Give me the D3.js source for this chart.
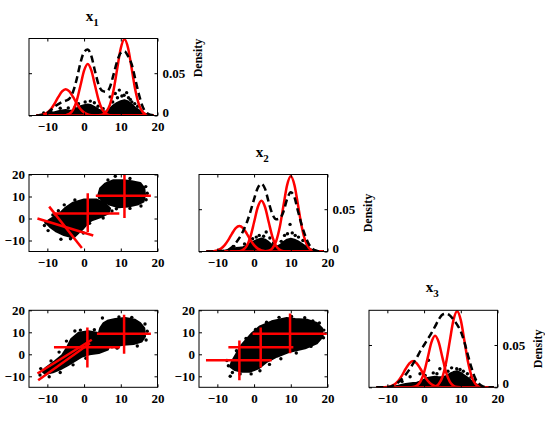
<!DOCTYPE html>
<html><head><meta charset="utf-8">
<script src="https://cdn.jsdelivr.net/npm/d3@7"></script>
<style>
body{margin:0;background:#fff}
svg{display:block}
</style>
</head><body>
<svg id="chart" width="545" height="423"></svg>
<script>
// ---------------- DATA ----------------
const variableNames = ["1", "2", "3"];
const xTickValues = [-10, 0, 10, 20];
const scatterYTickValues = [-10, 0, 10, 20];
const densityTickValues = [0, 0.05];
const densityTickLabels = ["0", "0.05"];

// x grid of density curves
const densityX = [-13,-12,-11,-10,-9,-8,-7,-6,-5,-4,-3,-2,-1,0,1,2,3,4,5,6,7,8,9,10,11,12,13,14,15,16,17,18,19];

// x1 density panel
const redX1A = [0.0001,0.0004,0.0014,0.0035,0.0077,0.0142,0.0219,0.0284,0.031,0.0284,0.0219,0.0142,0.0077,0.0035,0.0014,0.0004,0.0001,0,0,0,0,0,0,0,0,0,0,0,0,0,0,0,0];
const redX1B = [0,0,0,0,0,0,0,0,0.0004,0.0019,0.0066,0.0176,0.0351,0.0531,0.061,0.0531,0.0351,0.0176,0.0066,0.0019,0.0004,0.0001,0,0,0,0,0,0,0,0,0,0,0];
const redX1C = [0,0,0,0,0,0,0,0,0,0,0,0,0,0,0,0,0,0.0002,0.001,0.004,0.0122,0.0292,0.0546,0.0794,0.09,0.0794,0.0546,0.0292,0.0122,0.004,0.001,0.0002,0];
const dashX1 = [0,0.0003,0.001,0.003,0.0065,0.0105,0.0135,0.016,0.0175,0.02,0.028,0.043,0.062,0.075,0.078,0.07,0.052,0.036,0.029,0.028,0.033,0.048,0.064,0.074,0.076,0.07,0.06,0.042,0.024,0.01,0.0035,0.001,0.0002];
const massX1 = [[-12.5,0],[-12,0.001],[-11,0.0015],[-10,0.002],[-9,0.003],[-8,0.004],[-7,0.005],[-6,0.006],[-5,0.0065],[-4,0.0055],[-3,0.006],[-2,0.008],[-1,0.011],[0,0.012],[1,0.013],[2,0.012],[3,0.0095],[4,0.007],[5,0.005],[6,0.0045],[7,0.008],[8,0.012],[9,0.015],[10,0.017],[11,0.018],[12,0.0165],[13,0.013],[14,0.009],[15,0.006],[16,0.003],[17,0.0012],[18,0]];
const dotsX1 = [[-11,0.003],[-9,0.004],[-6.5,0.0085],[-4.3,0.009],[-2.5,0.0095],[-1.5,0.014],[0.3,0.016],[1.7,0.017],[2.8,0.015],[3.8,0.011],[5.2,0.008],[7.1,0.022],[7.8,0.016],[8.5,0.026],[9.1,0.021],[9.6,0.03],[10.3,0.023],[10.9,0.024],[11.6,0.027],[12.1,0.021],[12.6,0.019],[13,0.016],[13.8,0.014],[14.6,0.011]];

// x2 density panel
const redX2A = [0,0.0001,0.0004,0.0013,0.0034,0.0075,0.0137,0.0212,0.0275,0.03,0.0275,0.0212,0.0137,0.0075,0.0034,0.0013,0.0004,0.0001,0,0,0,0,0,0,0,0,0,0,0,0,0,0,0];
const redX2B = [0,0,0,0,0,0,0,0,0.0001,0.0004,0.0019,0.0065,0.0173,0.0345,0.0523,0.06,0.0523,0.0345,0.0173,0.0065,0.0019,0.0004,0.0001,0,0,0,0,0,0,0,0,0,0];
const redX2C = [0,0,0,0,0,0,0,0,0,0,0,0,0,0,0,0,0.0002,0.001,0.0039,0.012,0.0289,0.054,0.0785,0.089,0.0785,0.054,0.0289,0.012,0.0039,0.001,0.0002,0,0];
const dashX2 = [0,0,0,0.0002,0.0005,0.001,0.002,0.005,0.01,0.016,0.024,0.034,0.047,0.062,0.075,0.08,0.074,0.058,0.044,0.038,0.039,0.047,0.062,0.07,0.064,0.047,0.031,0.018,0.008,0.003,0.001,0,0];
const massX2 = [[-9,0],[-8,0.001],[-7,0.002],[-6,0.003],[-5,0.004],[-4,0.0045],[-3,0.005],[-2,0.007],[-1,0.01],[0,0.012],[1,0.014],[2,0.0155],[3,0.014],[4,0.011],[5,0.0075],[6,0.0055],[7,0.0075],[8,0.011],[9,0.014],[10,0.015],[11,0.014],[12,0.012],[13,0.009],[14,0.006],[15,0.0035],[16,0.0015],[17,0.0005],[17.5,0]];
const dotsX2 = [[-5.5,0.006],[-2.6,0.009],[-0.4,0.015],[0.6,0.017],[1.4,0.019],[2.6,0.018],[3.3,0.023],[4.3,0.016],[5.3,0.01],[7.4,0.012],[8.3,0.019],[9.1,0.021],[9.8,0.032],[10.4,0.022],[11.2,0.019],[12.1,0.017],[13.3,0.013],[14.5,0.009]];

// x3 density panel
const redX3A = [0,0,0.0001,0.0004,0.0014,0.0035,0.0077,0.0142,0.0219,0.0284,0.031,0.0284,0.0219,0.0142,0.0077,0.0035,0.0014,0.0004,0.0001,0,0,0,0,0,0,0,0,0,0,0,0,0,0];
const redX3B = [0,0,0,0,0,0,0,0,0,0,0.0004,0.0019,0.0066,0.0176,0.0351,0.0531,0.061,0.0531,0.0351,0.0176,0.0066,0.0019,0.0004,0.0001,0,0,0,0,0,0,0,0,0];
const redX3C = [0,0,0,0,0,0,0,0,0,0,0,0,0,0,0,0.0002,0.001,0.004,0.0122,0.0292,0.0546,0.0794,0.09,0.0794,0.0546,0.0292,0.0122,0.004,0.001,0.0002,0,0,0];
const dashX3 = [0,0,0,0.0003,0.001,0.003,0.006,0.01,0.015,0.021,0.028,0.035,0.043,0.05,0.057,0.064,0.072,0.08,0.086,0.087,0.085,0.08,0.074,0.066,0.053,0.037,0.022,0.01,0.004,0.001,0,0,0];
const massX3 = [[-9,0],[-8,0.001],[-7,0.002],[-6,0.003],[-5,0.004],[-4,0.0045],[-3,0.005],[-2,0.0055],[-1,0.007],[0,0.009],[1,0.011],[2,0.012],[3,0.0125],[4,0.012],[5,0.012],[6,0.013],[7,0.016],[8,0.018],[9,0.019],[10,0.017],[11,0.014],[12,0.011],[13,0.007],[14,0.004],[15,0.002],[16,0.0008],[16.8,0]];
const dotsX3 = [[-6,0.007],[-3.8,0.0125],[-1.1,0.016],[0.3,0.014],[1.2,0.032],[2.5,0.017],[3.5,0.016],[4.3,0.022],[5.7,0.026],[6.5,0.019],[7.5,0.023],[8.9,0.022],[9.8,0.021],[10.7,0.019],[11.8,0.016],[12.8,0.012],[13.8,0.008]];

// scatter x1 (horizontal) vs x2 (vertical)
const blobR2C1Upper = [[3.9,10.8],[4.4,13.8],[5.7,15.8],[8,17.4],[10.7,17.4],[13,16.9],[15.3,16.2],[16.4,13.8],[16.6,10.8],[16.2,7.7],[14.8,6.5],[12.1,5.4],[9.4,5.1],[7.1,6.2],[4.8,8.2]];
const blobR2C1Lower = [[-9.7,-0.8],[-8.2,0.8],[-6.5,2.5],[-5,5],[-3,7.2],[0,8.6],[3.5,8.6],[5.7,7],[7.1,4.6],[6.6,2.3],[4.4,0.5],[2.1,-0.8],[0.8,-2.5],[-0.5,-5],[-1.5,-6.5],[-2.9,-8.8],[-4,-8.2],[-5.5,-7.5],[-7.5,-6],[-9.3,-3.8],[-10.2,-2.3]];
const dotsR2C1 = [[8.5,19.2],[6.5,17.5],[12.5,18.2],[16.8,14.5],[17.2,11.5],[16.9,8.5],[15.5,5.7],[12.5,4.6],[8.8,4.4],[4.2,9.5],[3.2,7.2],[-2.5,8.4],[-5.4,6.2],[-7,3.5],[-10.4,-1.8],[-10.8,-3.2],[-9.8,-5.5],[-6.3,-9.4],[-3.7,-9.2],[-0.2,-6.6],[1.5,-2.2],[5.2,0.2],[7.6,3.4],[-8.5,1.6]];
const crossR2C1 = [[3.2,10.3,18.2,10.3],[11,20,11,0.2],[-8.4,2.3,9.6,2.3],[1,11.5,1,-6.1],[-12.7,0,2.5,-7.7],[-9.5,5.4,-0.6,-13.4]];

// scatter x1 (horizontal) vs x3 (vertical)
const blobR3C1Upper = [[4.4,11.9],[5.3,14.2],[6.6,15.4],[8.5,16],[11.2,16.5],[13.9,15.7],[15.3,14.2],[16.4,11.9],[16.6,8.1],[15.7,5.8],[13.5,4.7],[10.7,4.3],[8,3.5],[6.2,4.3],[4.8,6.6],[3.9,8.9]];
const blobR3C1Lower = [[-10.5,-6.2],[-8,-3.2],[-6,-0.5],[-4.7,3],[-3.5,7],[-1.5,9.8],[1.2,10.5],[3.5,9.8],[5.7,8.3],[7.1,5.2],[6.5,2.2],[4,0.6],[1.5,0],[-0.5,-1],[-2.5,-3],[-4.5,-5],[-6.5,-6.8],[-8.5,-8.2],[-10.5,-9],[-11.2,-8]];
const dotsR3C1 = [[5,16.5],[9.5,17],[13,16.8],[16.6,13.8],[17.2,10.5],[16.9,6.5],[14.5,3.8],[9,2.8],[4.2,5.6],[2.8,11.2],[-1,11],[-2.5,10.6],[-4.8,6],[-6.8,1],[-9,-3],[-11.8,-6.5],[-12,-9.4],[-9.5,-10.2],[-6.5,-8.3],[-3,-4.8],[0.5,-1.8],[7.6,3.4]];
const crossR3C1 = [[3.5,9.3,18.2,9.3],[10.9,18,10.9,0.2],[-8.2,3.2,9.8,3.2],[0.9,12.2,0.9,-6],[-12.7,-8.7,2.1,6.6],[-12.5,-11.8,1.6,5]];

// scatter x2 (horizontal) vs x3 (vertical)
const blobR3C2 = [[-6.1,-3.4],[-3.4,4.3],[-0.6,9.6],[1.6,12.7],[4.8,15],[8.9,16.5],[11.2,16],[14.4,15.7],[17.1,14.2],[18.5,11.9],[18.7,8.1],[17.1,5],[13.9,2.7],[9.8,1.2],[6.2,-1.1],[3.5,-3.4],[1.2,-6.4],[-1.1,-7.9],[-3.4,-7.9],[-5.2,-7.2],[-6.5,-5.6]];
const dotsR3C2 = [[17.8,14.2],[19,11],[18.9,7.5],[15.5,3.6],[11.5,0.6],[7.3,-2],[4.2,-4.6],[1.6,-7.5],[-0.8,-8.9],[-3.8,-8.9],[-5.9,-8.3],[-7,-5.2],[-7.4,-2.8],[-4.8,1.6],[-2.2,7.2],[0.4,11.3],[3.4,14.6],[6.8,16.8],[10.2,17.2],[13.8,16.6],[16,15.2],[-6.5,-10]];
const crossR3C2 = [[-0.4,9.3,19.8,9.3],[9.8,18.5,9.8,0.5],[-7,3.2,10.7,3.2],[1.8,12.2,1.8,-6],[-13.1,-2.7,4.8,-2.7],[-4,6.3,-4,-11.8]];

// ---------------- LAYOUT ----------------
const colLeft = [29, 199, 369];
const rowTop = [38.5, 174.5, 310.3];
const PW = 128.5, PH = 77;
const densityMax = 0.091;
const FONT = '"Liberation Serif","Times New Roman",serif';
const TICK_FONT = 13;
const RED = "#ff0000";

const svg = d3.select("#chart");

function numFmt(d){ return d < 0 ? "\u2212" + Math.abs(d) : String(d); }

function styleAxis(g){
  g.select(".domain").remove();
  g.attr("font-family", FONT).attr("font-size", TICK_FONT).attr("font-weight", "bold");
  g.selectAll("line").attr("stroke", "#000");
  g.selectAll("text").attr("fill", "#000");
}

function makePanel(r, c, yDomain){
  const left = colLeft[c], top = rowTop[r];
  const x = d3.scaleLinear().domain([-15, 20]).range([left, left + PW]);
  const y = d3.scaleLinear().domain(yDomain).range([top + PH, top]);
  const id = "clip" + r + c;
  svg.append("clipPath").attr("id", id).append("rect")
    .attr("x", left).attr("y", top).attr("width", PW).attr("height", PH);
  const g = svg.append("g");
  const plot = g.append("g").attr("clip-path", `url(#${id})`);
  return {x, y, g, plot, left, top};
}

function drawXAxes(p){
  p.g.append("g").attr("transform", `translate(0,${p.top + PH})`)
    .call(d3.axisBottom(p.x).tickValues(xTickValues).tickSize(-3).tickPadding(6).tickFormat(numFmt))
    .call(styleAxis);
  p.g.append("g").attr("transform", `translate(0,${p.top})`)
    .call(d3.axisTop(p.x).tickValues(xTickValues).tickSize(-3).tickFormat(""))
    .call(styleAxis);
}

function drawBox(p){
  p.g.append("rect").attr("x", p.left).attr("y", p.top).attr("width", PW).attr("height", PH)
    .attr("fill", "none").attr("stroke", "#000").attr("stroke-width", 1);
}

// ---------------- DIAGONAL (density) PANELS ----------------
const diagRed = [[redX1A, redX1B, redX1C], [redX2A, redX2B, redX2C], [redX3A, redX3B, redX3C]];
const diagDash = [dashX1, dashX2, dashX3];
const diagMass = [massX1, massX2, massX3];
const diagDots = [dotsX1, dotsX2, dotsX3];
const densityLabelY = [58, null, null];

for (let i = 0; i < 3; i++) {
  const p = makePanel(i, i, [0, densityMax]);
  const area = d3.area().x(d => p.x(d[0])).y0(p.y(0)).y1(d => p.y(d[1])).curve(d3.curveLinear);
  p.plot.append("path").datum(diagMass[i]).attr("d", area).attr("fill", "#000")
    .attr("stroke", "#000").attr("stroke-width", 2).attr("stroke-linejoin", "round");
  p.plot.selectAll("circle.dot").data(diagDots[i]).join("circle").attr("class", "dot")
    .attr("cx", d => p.x(d[0])).attr("cy", d => p.y(d[1])).attr("r", 1.7).attr("fill", "#000");
  const line = d3.line().x((d, k) => p.x(densityX[k])).y(d => p.y(d)).curve(d3.curveMonotoneX);
  diagRed[i].forEach(arr => {
    p.plot.append("path").datum(arr).attr("d", line).attr("fill", "none")
      .attr("stroke", RED).attr("stroke-width", 2.5);
  });
  p.plot.append("path").datum(diagDash[i]).attr("d", line).attr("fill", "none")
    .attr("stroke", "#000").attr("stroke-width", 2.5).attr("stroke-dasharray", "7,4");
  drawBox(p);
  drawXAxes(p);
  p.g.append("g").attr("transform", `translate(${p.left + PW},0)`)
    .call(d3.axisRight(p.y).tickValues(densityTickValues).tickSize(-3).tickPadding(5)
      .tickFormat((d, k) => densityTickLabels[k]))
    .call(styleAxis)
    .call(g => g.selectAll("text").filter(d => d === 0).attr("dy", "0.05em"));
  p.g.append("g").attr("transform", `translate(${p.left},0)`)
    .call(d3.axisLeft(p.y).tickValues(densityTickValues).tickSize(-3).tickFormat(""))
    .call(styleAxis);
  const t = p.g.append("text").attr("x", p.left + PW / 2 - 1).attr("y", p.top - 18)
    .attr("text-anchor", "middle").attr("font-family", FONT).attr("font-weight", "bold").attr("font-size", 15);
  t.append("tspan").text("x");
  t.append("tspan").attr("font-size", 11).attr("dy", 5).text(variableNames[i]);
  const ly = densityLabelY[i] != null ? densityLabelY[i] : p.top + PH / 2;
  p.g.append("text").attr("transform", `translate(${p.left + PW + 44},${ly}) rotate(-90)`)
    .attr("text-anchor", "middle").attr("font-family", FONT).attr("font-weight", "bold")
    .attr("font-size", 12).text("Density");
}

// ---------------- SCATTER PANELS ----------------
const scatterPanels = [
  {r: 1, c: 0, blobs: [blobR2C1Upper, blobR2C1Lower], dots: dotsR2C1, cross: crossR2C1},
  {r: 2, c: 0, blobs: [blobR3C1Upper, blobR3C1Lower], dots: dotsR3C1, cross: crossR3C1},
  {r: 2, c: 1, blobs: [blobR3C2], dots: dotsR3C2, cross: crossR3C2}
];

scatterPanels.forEach(sp => {
  const p = makePanel(sp.r, sp.c, [-15, 20]);
  const poly = d3.line().x(d => p.x(d[0])).y(d => p.y(d[1])).curve(d3.curveLinearClosed);
  sp.blobs.forEach(b => {
    p.plot.append("path").datum(b).attr("d", poly).attr("fill", "#000")
      .attr("stroke", "#000").attr("stroke-width", 2).attr("stroke-linejoin", "round");
  });
  p.plot.selectAll("circle.dot").data(sp.dots).join("circle").attr("class", "dot")
    .attr("cx", d => p.x(d[0])).attr("cy", d => p.y(d[1])).attr("r", 1.7).attr("fill", "#000");
  p.plot.selectAll("line.cross").data(sp.cross).join("line").attr("class", "cross")
    .attr("x1", d => p.x(d[0])).attr("y1", d => p.y(d[1]))
    .attr("x2", d => p.x(d[2])).attr("y2", d => p.y(d[3]))
    .attr("stroke", RED).attr("stroke-width", 2.5);
  drawBox(p);
  drawXAxes(p);
  p.g.append("g").attr("transform", `translate(${p.left},0)`)
    .call(d3.axisLeft(p.y).tickValues(scatterYTickValues).tickSize(-3).tickPadding(4).tickFormat(numFmt))
    .call(styleAxis);
  p.g.append("g").attr("transform", `translate(${p.left + PW},0)`)
    .call(d3.axisRight(p.y).tickValues(scatterYTickValues).tickSize(-3).tickFormat(""))
    .call(styleAxis);
});
</script>
</body></html>
